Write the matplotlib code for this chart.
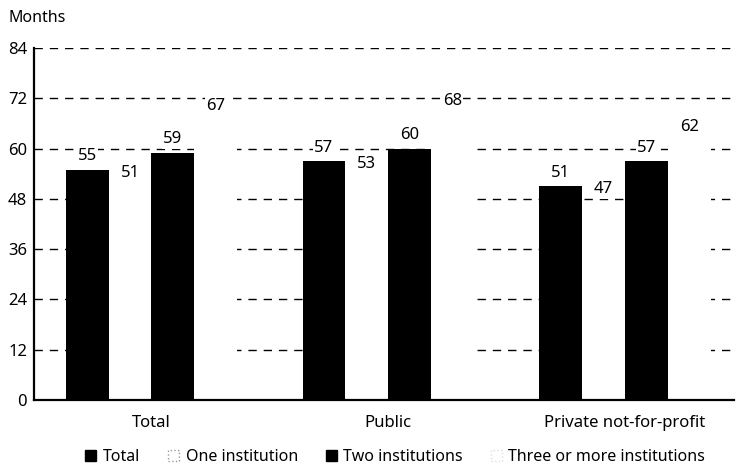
import matplotlib
matplotlib.use("Agg")
import matplotlib.pyplot as plt
import numpy as np
from matplotlib.patches import Patch

plt.rcParams['font.family'] = ['Noto Sans', 'DejaVu Sans']

groups = ['Total', 'Public', 'Private not-for-profit']
series = ['Total', 'One institution', 'Two institutions', 'Three or more institutions']
total = [55, 57, 51]
one_inst = [51, 53, 47]
two_inst = [59, 60, 57]
three_more = [67, 68, 62]
y_ticks = [0, 12, 24, 36, 48, 60, 72, 84]


def chart():
    fig = plt.figure(figsize=(7.36, 4.70), dpi=100)
    ax = fig.add_axes([34 / 736, 70 / 470, 700 / 736, 352 / 470])

    x = np.arange(len(groups))
    w = 0.181
    values = [total, one_inst, two_inst, three_more]
    faces = ['black', 'white', 'black', 'white']
    for i, (vals, fc) in enumerate(zip(values, faces)):
        bars = ax.bar(x + (i - 1.5) * w, vals, w, color=fc, edgecolor='none', zorder=3)
        labels = ax.bar_label(bars, padding=4, fontsize=12, color='black')
        for t in labels:
            t.set_bbox(dict(facecolor='white', edgecolor='none', pad=1))
            t.set_zorder(4)

    ax.set_xlim(-0.496, 2.46)
    ax.set_ylim(0, 84)
    ax.set_yticks(y_ticks)
    ax.tick_params(axis='y', length=0, labelsize=12, pad=5)
    ax.set_xticks(x)
    ax.set_xticklabels(groups, fontsize=12)
    ax.tick_params(axis='x', length=0, pad=11)
    ax.yaxis.grid(True, color='black', linestyle=(0, (6, 5)), linewidth=1)
    ax.set_axisbelow(True)
    for side in ['top', 'right']:
        ax.spines[side].set_visible(False)
    for side in ['left', 'bottom']:
        ax.spines[side].set_linewidth(1.6)
        ax.spines[side].set_zorder(5)

    fig.text(8 / 736, 1 - 18 / 470, 'Months', fontsize=11.5, va='center')

    handles = [
        Patch(facecolor='black', edgecolor='black'),
        Patch(facecolor='white', edgecolor='#999999', linestyle=':'),
        Patch(facecolor='black', edgecolor='black'),
        Patch(facecolor='white', edgecolor='#dddddd', linestyle=':'),
    ]
    fig.legend(handles, series, loc='lower center', bbox_to_anchor=(0.537, -0.02), ncol=4,
               frameon=False, fontsize=11.5, handlelength=0.7, handleheight=0.7,
               handletextpad=0.4, columnspacing=1.75)

    fig.savefig('out.png', dpi=100)


if __name__ == '__main__':
    chart()
